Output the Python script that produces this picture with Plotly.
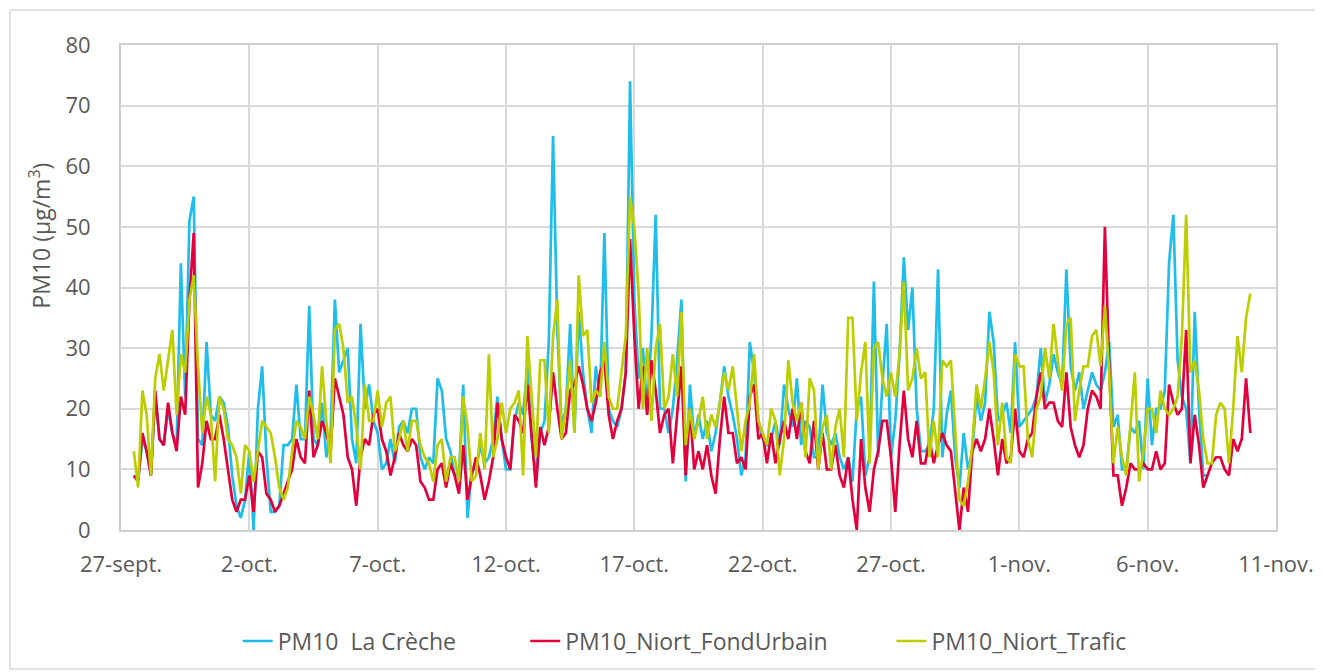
import pandas as pd
import plotly.graph_objects as go

# 4-hourly timestamps, from 27-sept 12:00 to 10-nov 00:00
start_time = "2021-09-27 12:00"
n_points = 262
times = pd.date_range(start_time, periods=n_points, freq="4h")

la_creche = [
    9, 8, 15, 13, 9, 22, 15, 14, 20, 16, 14, 44, 22, 51, 55, 15, 14, 31, 19, 18, 22, 21, 17, 9, 4, 2, 5, 13, 0, 20, 27, 12,
    3, 3, 4, 14, 14, 15, 24, 15, 15, 37, 15, 14, 21, 12, 16, 38, 26, 28, 30, 15, 11, 34, 20, 24, 18, 16, 10, 11, 15, 11, 17, 18, 16, 20,
    20, 12, 10, 12, 11, 25, 23, 15, 13, 9, 9, 24, 2, 10, 10, 14, 11, 12, 15, 22, 15, 10, 10, 18, 21, 19, 27, 15, 9, 16, 18, 31, 65, 33,
    17, 20, 34, 16, 36, 26, 20, 16, 27, 22, 49, 20, 18, 17, 20, 26, 74, 38, 25, 30, 20, 32, 52, 20, 20, 16, 20, 28, 38, 8, 24, 15, 19, 15,
    18, 13, 16, 21, 27, 22, 19, 15, 9, 12, 31, 26, 18, 15, 14, 15, 18, 14, 24, 20, 17, 25, 14, 18, 17, 12, 12, 24, 16, 14, 16, 12, 10, 12,
    8, 20, 22, 9, 12, 41, 12, 24, 34, 12, 18, 29, 45, 33, 40, 20, 13, 13, 14, 20, 43, 12, 19, 23, 12, 7, 16, 10, 13, 22, 18, 21, 36, 31,
    18, 19, 21, 16, 31, 17, 18, 19, 20, 22, 30, 21, 24, 29, 26, 24, 43, 27, 23, 26, 20, 23, 26, 24, 23, 26, 31, 17, 19, 10, 10, 17, 16, 18,
    10, 25, 14, 20, 20, 23, 44, 52, 28, 22, 20, 11, 36, 20, 9, 9,
    None, None, None, None, None, None, None, None, None, None,
]

fond_urbain = [
    9, 8, 16, 13, 9, 23, 15, 14, 21, 16, 13, 22, 19, 38, 49, 7, 11, 18, 15, 15, 19, 15, 10, 5, 3, 5, 5, 9, 3, 13, 12, 6,
    5, 3, 4, 6, 8, 10, 15, 12, 11, 23, 12, 14, 18, 16, 13, 25, 22, 19, 12, 10, 4, 12, 15, 14, 19, 20, 15, 13, 9, 12, 16, 14, 13, 15,
    14, 8, 7, 5, 5, 10, 11, 7, 11, 9, 6, 14, 5, 9, 12, 9, 5, 8, 12, 21, 15, 12, 10, 19, 18, 16, 24, 15, 7, 17, 14, 17, 26, 20,
    15, 16, 23, 24, 27, 24, 20, 18, 21, 26, 28, 19, 15, 18, 20, 26, 48, 32, 20, 27, 19, 28, 23, 16, 19, 20, 11, 19, 27, 9, 20, 10, 13, 10,
    14, 9, 6, 15, 22, 16, 16, 11, 12, 10, 22, 24, 15, 16, 11, 16, 11, 15, 18, 15, 20, 15, 21, 13, 11, 18, 10, 16, 10, 10, 14, 9, 7, 12,
    5, 0, 15, 7, 3, 10, 13, 18, 18, 12, 3, 14, 23, 15, 12, 18, 11, 11, 15, 11, 14, 16, 14, 13, 7, 0, 7, 3, 13, 15, 13, 15, 20, 15,
    9, 15, 11, 12, 20, 13, 12, 15, 16, 22, 26, 20, 21, 21, 18, 17, 26, 17, 14, 12, 14, 20, 23, 22, 20, 50, 27, 9, 9, 4, 7, 11, 10, 10,
    11, 10, 10, 13, 10, 11, 24, 21, 19, 20, 33, 11, 19, 14, 7, 9, 11, 12, 12, 10, 9, 15, 13, 15, 25, 16,
]

trafic = [
    13, 7, 23, 19, 9, 25, 29, 23, 28, 33, 19, 29, 26, 38, 42, 27, 16, 22, 19, 8, 22, 20, 15, 14, 12, 6, 14, 13, 8, 13, 18, 17,
    16, 12, 7, 5, 7, 13, 18, 17, 15, 22, 19, 15, 27, 18, 11, 33, 34, 30, 21, 22, 17, 10, 24, 18, 18, 23, 17, 21, 22, 13, 15, 18, 13, 18,
    18, 14, 12, 11, 8, 14, 15, 8, 12, 12, 8, 22, 17, 8, 9, 16, 10, 29, 12, 15, 21, 16, 20, 21, 23, 9, 32, 22, 12, 28, 28, 16, 32, 38,
    15, 20, 28, 16, 42, 32, 33, 21, 23, 22, 31, 22, 20, 20, 26, 32, 55, 50, 39, 20, 30, 18, 30, 34, 20, 22, 29, 22, 36, 14, 20, 15, 18, 22,
    15, 19, 17, 21, 26, 23, 27, 20, 13, 18, 21, 29, 18, 16, 14, 20, 18, 9, 15, 28, 21, 18, 21, 12, 25, 23, 10, 17, 19, 10, 17, 20, 12, 35,
    35, 18, 26, 31, 11, 30, 31, 25, 22, 26, 22, 29, 41, 23, 25, 30, 25, 26, 12, 18, 12, 28, 27, 28, 17, 5, 4, 8, 14, 24, 20, 25, 31, 26,
    14, 21, 12, 11, 29, 27, 27, 15, 12, 20, 22, 30, 25, 34, 28, 23, 34, 35, 18, 23, 27, 27, 32, 33, 27, 37, 26, 11, 17, 12, 9, 18, 26, 8,
    13, 20, 20, 16, 23, 20, 19, 20, 22, 32, 52, 26, 28, 23, 15, 11, 11, 19, 21, 20, 11, 20, 32, 26, 35, 39,
]

tick_dates = ["2021-09-27", "2021-10-02", "2021-10-07", "2021-10-12", "2021-10-17",
              "2021-10-22", "2021-10-27", "2021-11-01", "2021-11-06", "2021-11-11"]
tick_labels = ["27-sept.", "2-oct.", "7-oct.", "12-oct.", "17-oct.",
               "22-oct.", "27-oct.", "1-nov.", "6-nov.", "11-nov."]

series_names = ["PM10  La Crèche", "PM10_Niort_FondUrbain", "PM10_Niort_Trafic"]
series_values = [la_creche, fond_urbain, trafic]
series_colors = ["#1FBDEA", "#E2003C", "#BCCD00"]
legend_ids = ["legend", "legend2", "legend3"]
legend_x = [0.101, 0.350, 0.667]

y_title = "PM10 (µg/m<sup>3</sup>)"

fig = go.Figure()
for name, vals, col, lid in zip(series_names, series_values, series_colors, legend_ids):
    fig.add_trace(go.Scatter(x=times, y=vals, name=name, mode="lines",
                             line=dict(color=col, width=2.7), connectgaps=False,
                             legend=lid))

font_family = "Open Sans, Noto Sans, sans-serif"
grid_col = "#d9d9d9"
txt_col = "#595959"

legend_layout = {}
for lid, lx in zip(legend_ids, legend_x):
    legend_layout[lid] = dict(orientation="h", x=lx, xanchor="left", y=-0.229, yanchor="middle",
                              font=dict(size=23, color=txt_col), bgcolor="rgba(0,0,0,0)")

fig.update_layout(
    width=1323, height=672,
    paper_bgcolor="white", plot_bgcolor="white",
    margin=dict(l=113, r=55, t=37, b=150),
    font=dict(family=font_family, color=txt_col, size=22),
    showlegend=True,
    shapes=[dict(type="rect", xref="paper", yref="paper",
                 x0=-0.0961, x1=1.0381, y0=-0.2866, y1=1.0722,
                 line=dict(color=grid_col, width=1.5), layer="below")],
    annotations=[dict(text=y_title, xref="paper", yref="paper", x=-0.0701, y=0.607,
                      xanchor="center", yanchor="middle", textangle=-90, showarrow=False,
                      font=dict(size=23, color=txt_col))],
    **legend_layout,
)

fig.update_xaxes(
    type="date", range=["2021-09-27", "2021-11-11"],
    tickvals=tick_dates, ticktext=tick_labels,
    showgrid=True, gridcolor=grid_col, gridwidth=2,
    showline=True, linecolor="#cfcfcf", linewidth=2, mirror=True,
    ticks="", ticklabelstandoff=14,
    tickfont=dict(size=22, color=txt_col),
    zeroline=False,
)
fig.update_yaxes(
    range=[0, 80], dtick=10, tick0=0,
    showgrid=True, gridcolor=grid_col, gridwidth=2,
    showline=True, linecolor="#cfcfcf", linewidth=2, mirror=True,
    ticks="", ticklabelstandoff=24,
    tickfont=dict(size=22, color=txt_col),
    zeroline=False,
)

fig.write_html("out.html")
